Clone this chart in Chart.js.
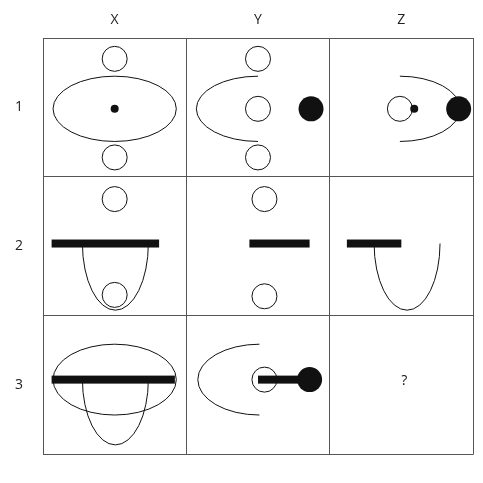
<!DOCTYPE html>
<html lang="en">
<head>
  <meta charset="UTF-8">
  <title>Matrix</title>
  <style>body{margin:0;background:#fff}</style>
</head>
<body>
  <div>
    <canvas id="myChart" width="483" height="483"></canvas>
  </div>

  <script src="https://cdn.jsdelivr.net/npm/chart.js"></script>
  <script>
    // column / row labels
    const colLabels = ['X', 'Y', 'Z']
    const rowLabels = ['1', '2', '3']

    // shapes in cell units: [x, y, ...]
    const openCircles = [[0.5,0.15],[0.5,0.86],[1.5,0.15],[1.5,0.51],[1.5,0.86],[2.49,0.51],
                         [0.5,1.16],[0.5,1.85],[1.545,1.16],[1.545,1.86],[1.545,2.46]]
    const discs = [[1.87,0.51],[2.9,0.51],[1.86,2.46]]
    const dots = [[0.5,0.51],[2.59,0.51]]
    const bars = [[0.06,0.81,1.48],[1.44,1.86,1.48],[2.12,2.5,1.48],[0.06,0.92,2.46],[1.5,1.86,2.46]]
    // ellipses: [cx, cy, rx, ry, part]  part: full / left / right / bottom
    const ellipses = [[0.5,0.51,0.43,0.235,'full'],[1.5,0.51,0.43,0.235,'left'],[2.49,0.51,0.42,0.235,'right'],
                      [0.505,1.48,0.23,0.48,'bottom'],[2.54,1.48,0.23,0.48,'bottom'],
                      [0.5,2.46,0.43,0.255,'full'],[0.505,2.46,0.23,0.47,'bottom'],[1.51,2.46,0.43,0.255,'left']]
    const texts = [[2.52,2.47,'?']]

    const shapes = {
      id: 'shapes',
      afterDatasetsDraw(chart) {
        const {ctx, scales: {x, y}} = chart
        const px = v => x.getPixelForValue(v), py = v => y.getPixelForValue(v)
        ctx.save()
        ctx.strokeStyle = '#111'; ctx.fillStyle = '#111'; ctx.lineWidth = 1
        openCircles.forEach(c => { ctx.beginPath(); ctx.arc(px(c[0]), py(c[1]), 12.5, 0, 2*Math.PI); ctx.stroke() })
        ellipses.forEach(e => {
          const cx = px(e[0]), cy = py(e[1]), rx = px(e[2]) - px(0), ry = py(e[3]) - py(0)
          let a0 = 0, a1 = 2*Math.PI
          if (e[4] === 'left') { a0 = Math.PI/2; a1 = Math.PI*1.5 }
          if (e[4] === 'right') { a0 = -Math.PI/2; a1 = Math.PI/2 }
          if (e[4] === 'bottom') { a0 = 0; a1 = Math.PI }
          ctx.beginPath(); ctx.ellipse(cx, cy, rx, ry, 0, a0, a1); ctx.stroke()
        })
        bars.forEach(b => { ctx.fillRect(px(b[0]), py(b[2]) - 4, px(b[1]) - px(b[0]), 8) })
        discs.forEach(c => { ctx.beginPath(); ctx.arc(px(c[0]), py(c[1]), 12.5, 0, 2*Math.PI); ctx.fill() })
        dots.forEach(c => { ctx.beginPath(); ctx.arc(px(c[0]), py(c[1]), 4, 0, 2*Math.PI); ctx.fill() })
        ctx.font = '14px "Open Sans"'; ctx.textAlign = 'center'; ctx.textBaseline = 'middle'
        texts.forEach(t => ctx.fillText(t[2], px(t[0]), py(t[1])))
        ctx.restore()
      }
    }

    const halfTicks = scale => { scale.ticks = [0,0.5,1,1.5,2,2.5,3].map(v => ({value: v})) }

    new Chart(document.getElementById('myChart'), {
      type: 'scatter',
      data: { datasets: [{ data: [] }] },
      options: {
        responsive: false,
        animation: false,
        layout: { padding: { left: 0, right: 5, top: 0, bottom: -11 } },
        plugins: { legend: { display: false }, tooltip: { enabled: false } },
        scales: {
          x: {
            position: 'top', min: 0, max: 3,
            afterBuildTicks: halfTicks,
            afterFit: s => { s.height = 38 },
            ticks: { autoSkip: false, maxRotation: 0, padding: 10, color: '#222', font: { family: 'Open Sans', size: 14 },
                     callback: v => (v % 1 === 0.5) ? colLabels[Math.floor(v)] : '' },
            grid: { color: c => (c.tick && c.tick.value % 1 === 0) ? '#555' : 'transparent', drawTicks: false },
            border: { color: '#555' }
          },
          y: {
            reverse: true, min: 0, max: 3,
            afterBuildTicks: halfTicks,
            afterFit: s => { s.width = 43 },
            ticks: { autoSkip: false, padding: 20, color: '#222', font: { family: 'Open Sans', size: 14 },
                     callback: v => (v % 1 === 0.5) ? rowLabels[Math.floor(v)] : '' },
            grid: { color: c => (c.tick && c.tick.value % 1 === 0) ? '#555' : 'transparent', drawTicks: false },
            border: { color: '#555' }
          }
        }
      },
      plugins: [shapes]
    })
  </script>
</body>
</html>
